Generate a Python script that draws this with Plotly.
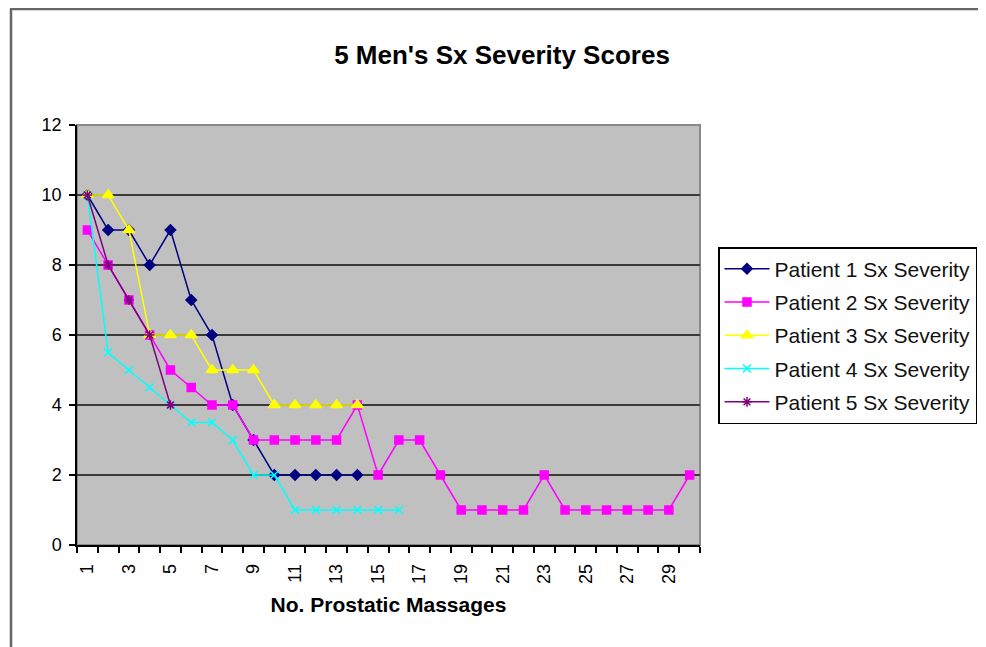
import plotly.graph_objects as go

sessions = list(range(1, 31))
patient1 = [10, 9, 9, 8, 9, 7, 6, 4, 3, 2, 2, 2, 2, 2]
patient2 = [9, 8, 7, 6, 5, 4.5, 4, 4, 3, 3, 3, 3, 3, 4, 2, 3, 3, 2, 1, 1, 1, 1, 2, 1, 1, 1, 1, 1, 1, 2]
patient3 = [10, 10, 9, 6, 6, 6, 5, 5, 5, 4, 4, 4, 4, 4]
patient4 = [10, 5.5, 5, 4.5, 4, 3.5, 3.5, 3, 2, 2, 1, 1, 1, 1, 1, 1]
patient5 = [10, 8, 7, 6, 4]
names = ["Patient 1 Sx Severity", "Patient 2 Sx Severity", "Patient 3 Sx Severity",
         "Patient 4 Sx Severity", "Patient 5 Sx Severity"]
xtick_labels = [str(v) for v in range(1, 30, 2)]

series = [patient1, patient2, patient3, patient4, patient5]
colors = ["#000080", "#FF00FF", "#FFFF00", "#00FFFF", "#800080"]
symbols = ["diamond", "square", "triangle-up", "x-thin-open", "asterisk-open"]
msizes = [8, 8, 10, 8, 8]

fig = go.Figure()
for i, (vals, name) in enumerate(zip(series, names)):
    fig.add_trace(go.Scatter(
        x=sessions[:len(vals)], y=vals, name=name, mode="lines+markers",
        line=dict(color=colors[i], width=1.5),
        marker=dict(symbol=symbols[i], size=msizes[i], color=colors[i],
                    line=dict(color=colors[i], width=1.5)),
        legendgroup=f"g{i}",
    ))

# page body has an 8px margin: work in reference pixels and shift
OFF = 8
W, H = 986 - OFF, 647 - OFF
L, R, T, B = 77 - OFF, 700 - OFF, 125 - OFF, 545 - OFF
pw = R - L
ph = B - T


def px_x(p):
    return (p - OFF - L) / pw


def px_y(p):
    return (B - (p - OFF)) / ph


fig.update_layout(
    width=W, height=H,
    margin=dict(l=L, r=W - R, t=T, b=H - B, autoexpand=False),
    paper_bgcolor="white",
    plot_bgcolor="#C0C0C0",
    font=dict(family="Liberation Sans, Arial, sans-serif", color="#000000"),
    title=dict(text="<b>5 Men's Sx Severity Scores</b>", x=(502 - OFF) / W, xref="container",
               xanchor="center", y=1 - (55 - OFF) / H, yref="container", yanchor="middle",
               font=dict(size=26, color="#000000")),
    showlegend=True,
    legend=dict(xref="container", yref="container", x=(718 - OFF) / W, y=1 - (247 - OFF) / H,
                xanchor="left", yanchor="top", bgcolor="white",
                bordercolor="#000000", borderwidth=1.5,
                font=dict(size=21, color="#111111"), itemwidth=45,
                traceorder="grouped", tracegroupgap=3),
    xaxis=dict(range=[0.5, 30.5], tickmode="array",
               tickvals=list(range(1, 30, 2)), ticktext=xtick_labels,
               tickangle=-90, ticks="", showgrid=False, zeroline=False,
               ticklabelstandoff=10,
               tickfont=dict(size=18, color="#000000"),
               showline=True, linecolor="#000000", linewidth=1.5,
               minor=dict(tickmode="array", tickvals=[v + 0.5 for v in range(0, 31)],
                          ticks="outside", ticklen=6, tickcolor="#000000", tickwidth=1.5,
                          showgrid=False),
               title=dict(text="<b>No. Prostatic Massages</b>", font=dict(size=21, color="#000000"),
                          standoff=14)),
    yaxis=dict(range=[0, 12], dtick=2, tick0=0, ticks="outside", ticklen=6,
               tickcolor="#000000", tickwidth=1.5, ticklabelstandoff=4,
               showgrid=True, gridcolor="#3a3a3a", gridwidth=2, zeroline=False,
               showline=True, linecolor="#000000", linewidth=1.5,
               tickfont=dict(size=18, color="#000000")),
    shapes=[
        dict(type="rect", xref="paper", yref="paper", x0=0, x1=1, y0=0, y1=1,
             line=dict(color="#8a8a8a", width=2), layer="below"),
        dict(type="line", xref="paper", yref="paper", x0=px_x(11), x1=px_x(11),
             y0=px_y(9), y1=px_y(660), line=dict(color="#666666", width=2.5)),
        dict(type="line", xref="paper", yref="paper", x0=px_x(10), x1=px_x(990),
             y0=px_y(9), y1=px_y(9), line=dict(color="#666666", width=2.5)),
    ],
)

fig.write_html("out.html")
